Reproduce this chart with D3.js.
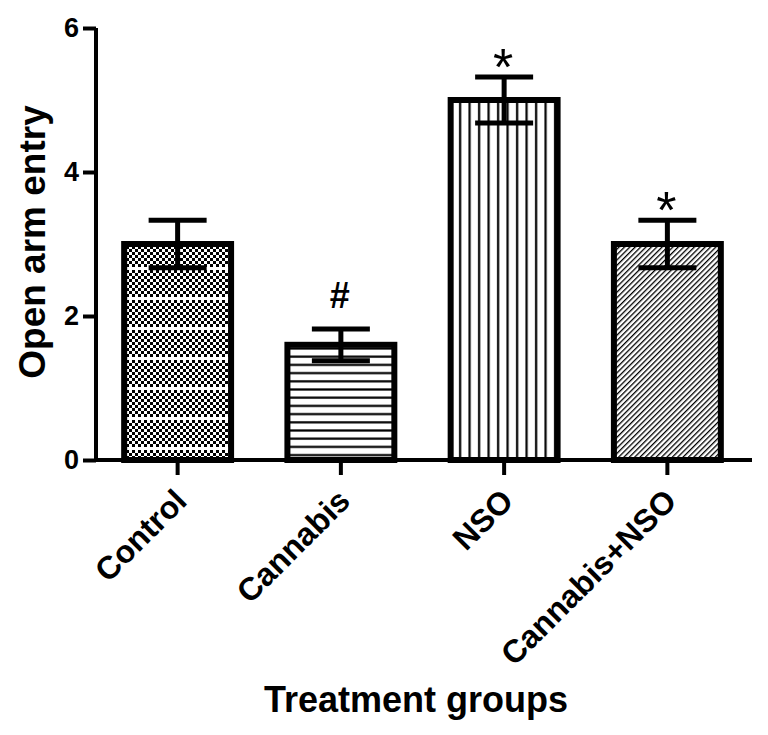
<!DOCTYPE html>
<html><head><meta charset="utf-8">
<script src="https://cdn.jsdelivr.net/npm/d3@7"></script>
<style>
html,body{margin:0;padding:0;background:#fff;}
text{font-family:"Liberation Sans",Arial,sans-serif;}
</style></head>
<body>
<svg id="chart" width="768" height="735"></svg>
<script>
const categories = ["Control", "Cannabis", "NSO", "Cannabis+NSO"];
const means = [3.0, 1.6, 5.0, 3.0];
const sems = [0.33, 0.22, 0.32, 0.33];
const marks = ["", "#", "*", "*"];
const patterns = ["checker", "hlines", "vlines", "diag"];
const yTicks = [0, 2, 4, 6];
const yTitle = "Open arm entry";
const xTitle = "Treatment groups";

const svg = d3.select("#chart");
const defs = svg.append("defs");

// checkerboard with white horizontal bands
const pc = defs.append("pattern").attr("id","checker").attr("patternUnits","userSpaceOnUse")
  .attr("width",6).attr("height",30);
pc.append("rect").attr("width",6).attr("height",30).attr("fill","#fff");
for (let r=0;r<9;r++){
  const off = (r%2)*3;
  pc.append("rect").attr("x",off).attr("y",r*3).attr("width",3).attr("height",3).attr("fill","#000");
}
// horizontal lines
const ph = defs.append("pattern").attr("id","hlines").attr("patternUnits","userSpaceOnUse")
  .attr("width",8).attr("height",8.2);
ph.append("rect").attr("width",8).attr("height",8.2).attr("fill","#fff");
ph.append("rect").attr("y",3).attr("width",8).attr("height",2.2).attr("fill","#000");
// vertical lines
const pv = defs.append("pattern").attr("id","vlines").attr("patternUnits","userSpaceOnUse")
  .attr("width",9.5).attr("height",8);
pv.append("rect").attr("width",9.5).attr("height",8).attr("fill","#fff");
pv.append("rect").attr("x",3).attr("width",2.2).attr("height",8).attr("fill","#000");
// diagonal hatch
const pd = defs.append("pattern").attr("id","diag").attr("patternUnits","userSpaceOnUse")
  .attr("width",3.8).attr("height",8).attr("patternTransform","rotate(45)");
pd.append("rect").attr("width",3.8).attr("height",8).attr("fill","#fff");
pd.append("rect").attr("x",0).attr("width",1.3).attr("height",8).attr("fill","#000");

const x = d3.scaleBand().domain(categories).range([96, 749]).paddingInner(0.345).paddingOuter(0.1725);
const y = d3.scaleLinear().domain([0, 6]).range([460, 28]);

const data = categories.map((c,i)=>({c, m:means[i], s:sems[i], mark:marks[i], p:patterns[i]}));

// bars
svg.append("g").selectAll("rect").data(data).join("rect")
  .attr("x", d=>x(d.c)).attr("width", x.bandwidth())
  .attr("y", d=>y(d.m)).attr("height", d=>y(0)-y(d.m))
  .attr("fill", d=>`url(#${d.p})`).attr("stroke","#000").attr("stroke-width",6);

// error bars
const eb = svg.append("g").attr("stroke","#000").attr("stroke-width",5);
const capW = 58;
data.forEach(d=>{
  const cx = x(d.c)+x.bandwidth()/2;
  eb.append("line").attr("x1",cx).attr("x2",cx).attr("y1",y(d.m+d.s)).attr("y2",y(d.m-d.s));
  eb.append("line").attr("x1",cx-capW/2).attr("x2",cx+capW/2).attr("y1",y(d.m+d.s)).attr("y2",y(d.m+d.s));
  eb.append("line").attr("x1",cx-capW/2).attr("x2",cx+capW/2).attr("y1",y(d.m-d.s)).attr("y2",y(d.m-d.s));
});

// significance marks
svg.append("g").selectAll("text").data(data.filter(d=>d.mark)).join("text")
  .attr("x", d=>x(d.c)+x.bandwidth()/2 - 1)
  .attr("y", d=>y(d.m+d.s) + (d.mark==="#"?-21:8))
  .attr("text-anchor","middle")
  .attr("font-family","DejaVu Sans")
  .attr("font-weight", d=>d.mark==="#"?"bold":"normal")
  .attr("font-size", d=>d.mark==="#"?36:52)
  .attr("fill","#000")
  .text(d=>d.mark);

// y axis
const yAxis = svg.append("g").attr("transform","translate(96,0)")
  .call(d3.axisLeft(y).tickValues(yTicks).tickSize(13).tickPadding(4).tickFormat(d3.format("d")));
yAxis.select(".domain").attr("stroke-width",4).attr("d","M0,28V460");
yAxis.selectAll(".tick line").attr("stroke-width",4);
yAxis.selectAll(".tick text").attr("font-size",27).attr("font-weight","bold").attr("fill","#000");

// x axis
const xAxis = svg.append("g").attr("transform","translate(0,460)")
  .call(d3.axisBottom(x).tickSize(15).tickFormat(""));
xAxis.select(".domain").attr("stroke-width",4).attr("d","M96,0H752");
xAxis.selectAll(".tick line").attr("stroke-width",4);

// rotated category labels
svg.append("g").selectAll("text").data(categories).join("text")
  .attr("transform", d=>`translate(${x(d)+x.bandwidth()/2+11},${503}) rotate(-45)`)
  .attr("text-anchor","end")
  .attr("font-size",32).attr("font-weight","bold").attr("fill","#000")
  .text(d=>d);

// titles
svg.append("text").attr("x",416).attr("y",712).attr("text-anchor","middle")
  .attr("font-size",36).attr("font-weight","bold").attr("fill","#000").text(xTitle);
svg.append("text").attr("transform","translate(45,242) rotate(-90)").attr("text-anchor","middle")
  .attr("font-size",37).attr("font-weight","bold").attr("fill","#000").text(yTitle);
</script>
</body></html>
